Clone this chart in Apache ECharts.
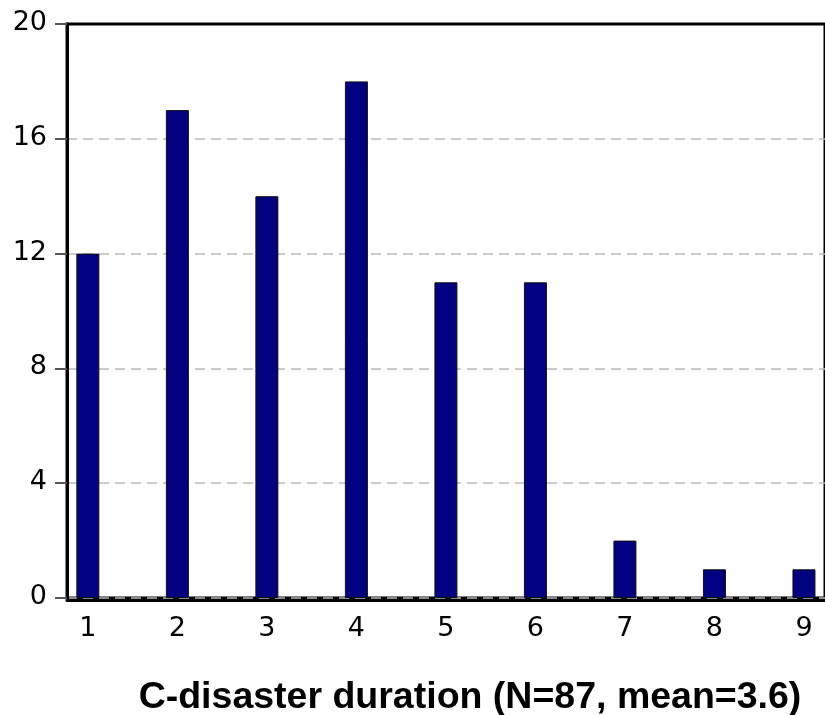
<!DOCTYPE html>
<html>
<head>
<meta charset="utf-8">
<script src="https://cdn.jsdelivr.net/npm/echarts@6/dist/echarts.min.js"></script>
<style>
  html, body { margin: 0; padding: 0; background: #fff; }
  #chart { width: 825px; height: 715px; }
</style>
</head>
<body>
<div id="chart"></div>
<script>
// durations and how many disasters had each
var durations = [1, 2, 3, 4, 5, 6, 7, 8, 9];
var counts = [12, 17, 14, 18, 11, 11, 2, 1, 1];
var yTicks = [0, 4, 8, 12, 16, 20];
var titleText = 'C-disaster duration (N=87, mean=3.6)';

var pairs = durations.map(function (d, i) { return [d, counts[i]]; });

var myChart = echarts.init(document.getElementById('chart'));
var option = {
    animation: false,
    title: {
        text: titleText,
        left: 465,
        textAlign: 'center',
        bottom: -7,
        textStyle: {
            fontFamily: '"Liberation Sans Narrow", "Arial Narrow", "Liberation Sans", Arial, sans-serif',
            fontWeight: 'bold',
            fontSize: 37.5,
            color: '#000'
        }
    },
    grid: {
        left: 67,
        top: 24,
        right: -6,
        bottom: 117,
        show: true,
        borderColor: '#000',
        borderWidth: 3,
        backgroundColor: 'transparent'
    },
    xAxis: {
        type: 'value',
        min: 0.767,
        max: 9.235,
        offset: 2,
        axisLine: { show: true, onZero: false, lineStyle: { color: '#000', width: 3 } },
        axisTick: { show: false },
        splitLine: { show: false },
        axisLabel: {
            customValues: durations,
            margin: 15,
            fontFamily: '"DejaVu Sans", sans-serif',
            fontSize: 27,
            color: '#000'
        }
    },
    yAxis: {
        type: 'value',
        min: 0,
        max: 20,
        interval: 4,
        axisLine: { show: true, lineStyle: { color: '#000', width: 3 } },
        axisTick: { show: true, length: 12, lineStyle: { color: '#555', width: 2 } },
        splitLine: { show: true, showMaxLine: false, lineStyle: { color: '#bbb', type: [10, 6], width: 1.5 } },
        axisLabel: {
            margin: 20,
            verticalAlign: 'bottom',
            lineHeight: 30,
            fontFamily: '"DejaVu Sans", sans-serif',
            fontSize: 27,
            color: '#000',
            padding: [0, 0, -14, 0],
            formatter: function (v) { return yTicks.indexOf(v) >= 0 ? String(v) : ''; }
        }
    },
    series: [
        {
            type: 'bar',
            data: pairs,
            barWidth: 23,
            itemStyle: { color: '#000080', borderColor: '#111', borderWidth: 1 }
        }
    ]
};
myChart.setOption(option);
</script>
</body>
</html>
